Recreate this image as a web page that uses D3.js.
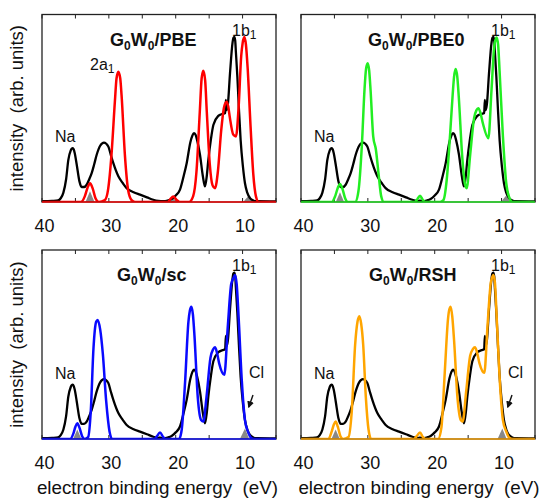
<!DOCTYPE html>
<html>
<head>
<meta charset="utf-8">
<script src="https://cdn.jsdelivr.net/npm/d3@7"></script>
<style>
  html, body { margin: 0; padding: 0; background: #fff; }
  svg { display: block; font-family: "Liberation Sans", Arial, Helvetica, sans-serif; }
  text { white-space: pre; }
</style>
</head>
<body>
<svg id="chart" width="539" height="501"></svg>
<script>
// ---------------- DATA ----------------
const energyTicks = [40, 30, 20, 10];
const minorTicks = [40, 35, 30, 25, 20, 15, 10, 5];
const xAxisLabel = "electron binding energy  (eV)";
const yAxisLabel = "intensity  (arb. units)";

// experimental spectrum [binding energy (eV), intensity]
const experiment = [
  [40,0.004],[38.5,0.006],[37.6,0.008],[37.2,0.02],[36.8,0.05],[36.4,0.12],[36.06,0.225],[35.7,0.275],[35.55,0.285],
  [35.41,0.287],[35.25,0.28],[35.1,0.26],[34.81,0.2],[34.4,0.11],[34.07,0.08],[33.7,0.08],[33.32,0.092],[32.95,0.12],
  [32.57,0.154],[32.2,0.2],[31.82,0.252],[31.3,0.3],[30.73,0.317],[30.08,0.296],[29.7,0.25],[29.33,0.207],
  [28.58,0.137],[27.9,0.1],[27.34,0.074],[26.3,0.052],[25.34,0.039],[24.3,0.025],[23.35,0.012],[22.6,0.006],
  [21.85,0.004],[21.2,0.008],[20.61,0.016],[20.0,0.035],[19.36,0.066],[18.8,0.14],[18.36,0.207],[17.8,0.32],[17.5,0.355],
  [17.27,0.367],[17.05,0.36],[16.8,0.33],[16.37,0.252],[15.95,0.14],[15.62,0.083],[15.35,0.14],[15.12,0.225],[14.75,0.33],
  [14.37,0.411],[13.63,0.459],[13.0,0.47],[12.6,0.475],[12.5,0.545],[12.42,0.49],[12.2,0.52],[11.88,0.686],
  [11.5,0.85],[11.38,0.875],[11.23,0.88],[11.1,0.86],[11.0,0.8],[10.78,0.668],[10.55,0.5],[10.29,0.33],[9.95,0.19],[9.64,0.10],
  [9.3,0.05],[8.89,0.021],[8.4,0.008],[7.9,0.004],[5,0.003]
];

// G0W0/PBE theory
const pbeSpectrum = [
  [40,0],[34.2,0],[33.6,0.03],[33.2,0.075],[32.82,0.10],[32.4,0.07],[32.0,0.02],[31.5,0],
  [30.6,0.01],[30.1,0.07],[29.6,0.255],[29.1,0.535],[28.85,0.66],[28.58,0.695],[28.3,0.66],[28.1,0.57],[27.6,0.25],[27.1,0.06],[26.6,0.01],[26.1,0],
  [21.2,0],[20.8,0.015],[20.36,0.03],[19.9,0.012],[19.4,0],
  [18.0,0],[17.4,0.03],[16.9,0.16],[16.4,0.48],[16.12,0.66],[15.87,0.70],[15.6,0.65],[15.35,0.48],[14.9,0.2],[14.5,0.09],[14.12,0.074],
  [13.7,0.16],[13.2,0.38],[12.8,0.5],[12.6,0.525],[12.38,0.535],[12.15,0.51],[11.9,0.45],[11.4,0.36],[10.98,0.35],[10.6,0.5],[10.2,0.78],
  [9.98,0.85],[9.73,0.88],[9.5,0.84],[9.25,0.72],[8.8,0.4],[8.4,0.15],[8.0,0.03],[7.6,0],[5,0]
];
// G0W0/PBE0 theory
const pbe0Spectrum = [
  [40,0],[35.4,0],[34.9,0.03],[34.5,0.075],[34.17,0.096],[33.8,0.07],[33.4,0.02],[33.0,0],
  [31.9,0],[31.4,0.06],[30.9,0.3],[30.5,0.6],[30.27,0.71],[30.03,0.74],[29.8,0.7],[29.6,0.6],[29.2,0.35],[28.8,0.28],[28.4,0.15],[28.0,0.03],[27.6,0],
  [23.0,0],[22.6,0.015],[22.2,0.034],[21.8,0.012],[21.4,0],
  [19.2,0],[18.7,0.01],[18.2,0.12],[17.7,0.36],[17.3,0.58],[17.1,0.67],[16.87,0.71],[16.63,0.67],[16.4,0.56],[15.9,0.25],[15.5,0.1],[15.22,0.074],
  [14.7,0.25],[14.1,0.45],[13.75,0.49],[13.48,0.5],[13.2,0.48],[12.8,0.42],[11.98,0.34],[11.5,0.6],[11.1,0.83],[10.95,0.86],[10.74,0.878],[10.52,0.84],[10.3,0.7],
  [9.8,0.35],[9.3,0.1],[8.8,0.02],[8.4,0],[5,0]
];
// G0W0/sc theory
const scSpectrum = [
  [40,0],[35.8,0],[35.3,0.03],[35.0,0.065],[34.72,0.083],[34.4,0.06],[34.0,0.015],[33.6,0],
  [33.1,0.01],[32.7,0.15],[32.3,0.48],[31.9,0.62],[31.67,0.63],[31.3,0.58],[30.9,0.45],[30.4,0.2],[29.9,0.04],[29.5,0],
  [23.2,0],[22.8,0.015],[22.35,0.035],[21.9,0.012],[21.5,0],
  [19.5,0],[19.1,0.05],[18.6,0.3],[18.1,0.62],[17.88,0.68],[17.66,0.70],[17.43,0.66],[17.2,0.55],[16.7,0.22],[16.2,0.1],[15.87,0.092],
  [15.4,0.22],[14.8,0.43],[14.4,0.475],[14.13,0.485],[13.85,0.46],[13.5,0.4],[12.73,0.34],[12.2,0.6],[11.7,0.82],[11.38,0.85],[11.13,0.868],[10.88,0.82],[10.6,0.65],
  [10.1,0.3],[9.64,0.1],[9.2,0.04],[8.7,0.005],[8.3,0],[5,0]
];
// G0W0/RSH theory
const rshSpectrum = [
  [40,0],[35.9,0],[35.4,0.04],[35.1,0.075],[34.82,0.092],[34.5,0.065],[34.1,0.015],[33.7,0],
  [32.9,0.01],[32.4,0.15],[31.9,0.5],[31.55,0.62],[31.28,0.65],[31.0,0.61],[30.7,0.5],[30.3,0.22],[29.9,0.05],[29.5,0],
  [23.1,0],[22.7,0.015],[22.2,0.035],[21.8,0.012],[21.4,0],
  [19.5,0],[19.0,0.06],[18.5,0.35],[18.0,0.64],[17.82,0.685],[17.61,0.70],[17.38,0.65],[17.1,0.52],[16.6,0.22],[16.1,0.1],[15.82,0.092],
  [15.3,0.25],[14.7,0.44],[14.3,0.475],[13.98,0.485],[13.68,0.46],[13.3,0.4],[12.58,0.35],[12.1,0.6],[11.6,0.83],[11.45,0.85],[11.23,0.868],[11.0,0.83],[10.7,0.62],
  [10.2,0.27],[9.8,0.1],[9.3,0.04],[8.8,0.005],[8.4,0],[5,0]
];

// gray-filled contributions (Na / Cl)
const pbeGray  = [[[33.5,0],[32.82,0.058],[32.15,0]], [[20.9,0],[20.36,0.02],[19.8,0]], [[9.9,0],[9.14,0.032],[8.5,0]]];
const pbe0Gray = [[[34.8,0],[34.17,0.052],[33.55,0]], [[22.75,0],[22.2,0.02],[21.65,0]], [[10.1,0],[9.34,0.034],[8.7,0]]];
const scGray   = [[[35.35,0],[34.72,0.05],[34.1,0]], [[22.9,0],[22.35,0.02],[21.8,0]], [[10.4,0],[9.64,0.056],[9.0,0]]];
const rshGray  = [[[35.45,0],[34.82,0.05],[34.2,0]], [[22.75,0],[22.2,0.02],[21.65,0]], [[10.6,0],[9.89,0.056],[9.25,0]]];

const methodNames = ["PBE", "PBE0", "sc", "RSH"];
const methodColors = ["#ff0000", "#22ee22", "#0a0aff", "#ffa500"];

// ---------------- LAYOUT ----------------
const svg = d3.select("#chart");
const panels = [
  {x0: 42,  x1: 276, y0: 14.5, y1: 202, spec: pbeSpectrum,  gray: pbeGray,  name: methodNames[0], color: methodColors[0], tdx: 68, twoA: true,  cl: false, ylab: true,  xlab: false},
  {x0: 301, x1: 535, y0: 14.5, y1: 202, spec: pbe0Spectrum, gray: pbe0Gray, name: methodNames[1], color: methodColors[1], tdx: 67, twoA: false, cl: false, ylab: false, xlab: false},
  {x0: 42,  x1: 276, y0: 250,  y1: 439, spec: scSpectrum,   gray: scGray,   name: methodNames[2], color: methodColors[2], tdx: 75, twoA: false, cl: true,  ylab: true,  xlab: true},
  {x0: 301, x1: 535, y0: 250,  y1: 439, spec: rshSpectrum,  gray: rshGray,  name: methodNames[3], color: methodColors[3], tdx: 68, twoA: false, cl: true,  ylab: false, xlab: true}
];

const defs = svg.append("defs");
defs.append("marker").attr("id", "arrow").attr("viewBox", "0 0 10 10")
  .attr("refX", 8).attr("refY", 5).attr("markerWidth", 5).attr("markerHeight", 5)
  .attr("orient", "auto")
  .append("path").attr("d", "M0,0 L10,5 L0,10 Z").attr("fill", "#111");

panels.forEach((p, i) => {
  const x = d3.scaleLinear().domain([40, 5]).range([p.x0, p.x1]);
  const y = d3.scaleLinear().domain([0, 1]).range([p.y1, p.y0]);
  const g = svg.append("g");

  defs.append("clipPath").attr("id", "clip" + i)
    .append("rect").attr("x", p.x0).attr("y", p.y0 - 1).attr("width", p.x1 - p.x0).attr("height", p.y1 - p.y0 + 1);

  // ticks (inward, top and bottom)
  minorTicks.forEach(t => {
    g.append("line").attr("x1", x(t)).attr("x2", x(t)).attr("y1", p.y1).attr("y2", p.y1 - 4)
      .attr("stroke", "#222").attr("stroke-width", 1);
    g.append("line").attr("x1", x(t)).attr("x2", x(t)).attr("y1", p.y0).attr("y2", p.y0 + 4)
      .attr("stroke", "#222").attr("stroke-width", 1);
  });

  // bottom axis labels via d3 axis
  const axis = d3.axisBottom(x).tickValues(energyTicks).tickSize(0).tickPadding(0).tickFormat(d3.format("d"));
  const ag = g.append("g").attr("transform", `translate(0,${p.y1 + 30})`).call(axis);
  ag.select(".domain").remove();
  ag.selectAll("text").attr("dy", 0).attr("dx", 2).attr("font-size", 18)
    .attr("font-family", "Liberation Sans, Arial, sans-serif").attr("fill", "#111");

  const plot = g.append("g").attr("clip-path", `url(#clip${i})`);

  // gray fills
  const area = d3.area().x(d => x(d[0])).y0(y(0)).y1(d => y(d[1])).curve(d3.curveLinear);
  p.gray.forEach(gp => {
    plot.append("path").attr("d", area(gp)).attr("fill", "#888").attr("stroke", "none");
  });

  const line = d3.line().x(d => x(d[0])).y(d => y(d[1])).curve(d3.curveMonotoneX);
  plot.append("path").attr("d", line(experiment)).attr("fill", "none")
    .attr("stroke", "#000").attr("stroke-width", 2.3).attr("stroke-linejoin", "round");
  plot.append("path").attr("d", line(p.spec)).attr("fill", "none")
    .attr("stroke", p.color).attr("stroke-width", 2.5).attr("stroke-linejoin", "round");

  // frame
  g.append("rect").attr("x", p.x0).attr("y", p.y0).attr("width", p.x1 - p.x0).attr("height", p.y1 - p.y0)
    .attr("fill", "none").attr("stroke", "#222").attr("stroke-width", 1.3);
  // colored baseline over the frame bottom
  g.append("line").attr("x1", p.x0).attr("x2", p.x1).attr("y1", p.y1).attr("y2", p.y1)
    .attr("stroke", p.color).attr("stroke-width", 1.3).attr("opacity", 0.9);

  // title
  const t = g.append("text").attr("x", p.x0 + p.tdx).attr("y", p.y0 + 31)
    .attr("font-size", 18).attr("font-weight", "bold").attr("fill", "#111");
  t.append("tspan").text("G");
  t.append("tspan").attr("dy", 4).attr("font-size", 12).text("0");
  t.append("tspan").attr("dy", -4).text("W");
  t.append("tspan").attr("dy", 4).attr("font-size", 12).text("0");
  t.append("tspan").attr("dy", -4).text("/" + p.name);

  // annotations
  g.append("text").attr("x", p.x0 + 13).attr("y", p.y1 - 60).attr("font-size", 16).attr("fill", "#111").text("Na");
  const b = g.append("text").attr("x", p.x0 + 190).attr("y", p.y0 + 21).attr("font-size", 16).attr("fill", "#111");
  b.append("tspan").text("1b");
  b.append("tspan").attr("dy", 3).attr("font-size", 12).text("1");
  if (p.twoA) {
    const a = g.append("text").attr("x", p.x0 + 48).attr("y", p.y0 + 55.5).attr("font-size", 16).attr("fill", "#111");
    a.append("tspan").text("2a");
    a.append("tspan").attr("dy", 3).attr("font-size", 12).text("1");
  }
  if (p.cl) {
    g.append("text").attr("x", p.x0 + 207).attr("y", p.y1 - 61).attr("font-size", 16).attr("fill", "#111").text("Cl");
    g.append("line").attr("x1", p.x0 + 211).attr("y1", p.y1 - 44).attr("x2", p.x0 + 206.8).attr("y2", p.y1 - 32)
      .attr("stroke", "#111").attr("stroke-width", 1.4).attr("marker-end", "url(#arrow)");
  }

  if (p.ylab) {
    svg.append("text").attr("transform", `translate(23,${(p.y0 + p.y1) / 2}) rotate(-90)`)
      .attr("text-anchor", "middle").attr("font-size", 18.5).attr("fill", "#111").text(yAxisLabel);
  }
  if (p.xlab) {
    svg.append("text").attr("x", (p.x0 + p.x1) / 2 - (i === 2 ? 1.5 : -1)).attr("y", 494)
      .attr("text-anchor", "middle").attr("font-size", 18.8).attr("fill", "#111").text(xAxisLabel);
  }
});
</script>
</body>
</html>
